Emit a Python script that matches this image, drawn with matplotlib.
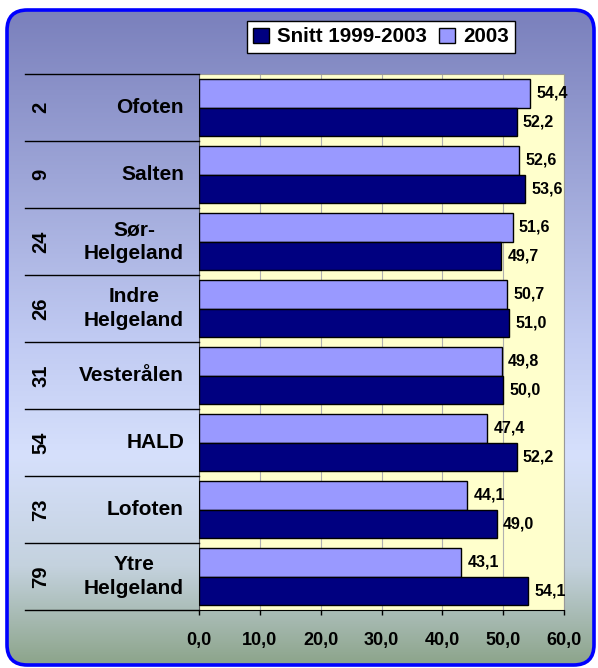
import numpy as np
import matplotlib.pyplot as plt
import matplotlib.transforms as mtransforms
from matplotlib.patches import FancyBboxPatch, Patch

plt.rcParams['font.family'] = ['Liberation Sans', 'DejaVu Sans']
plt.rcParams['font.weight'] = 'bold'

regions = ['Ofoten', 'Salten', 'Sør-\nHelgeland', 'Indre\nHelgeland', 'Vesterålen',
           'HALD', 'Lofoten', 'Ytre\nHelgeland']
ranks = ['2', '9', '24', '26', '31', '54', '73', '79']
avg_1999_2003 = [52.2, 53.6, 49.7, 51.0, 50.0, 52.2, 49.0, 54.1]
val_2003 = [54.4, 52.6, 51.6, 50.7, 49.8, 47.4, 44.1, 43.1]
xticks = [0, 10, 20, 30, 40, 50, 60]

dark = '#000080'
light = '#9999FF'

W, H = 598, 668
fig = plt.figure(figsize=(W / 100, H / 100), dpi=100)
fig.patch.set_facecolor('white')

# background panel with vertical gradient and rounded blue border
bg = fig.add_axes([0, 0, 1, 1])
bg.set_xlim(0, 1)
bg.set_ylim(0, 1)
bg.axis('off')
stops = [0.0, 0.5, 0.68, 0.85, 1.0]
cols = np.array([(122, 128, 188), (192, 202, 242), (214, 224, 252),
                 (196, 210, 222), (140, 164, 138)]) / 255
t = np.linspace(0, 1, 400)
grad = np.stack([np.interp(t, stops, cols[:, c]) for c in range(3)], axis=-1)[:, None, :]
x0, y0 = 7 / W, 1 - 665 / H
x1, y1 = 594 / W, 1 - 10 / H
box = FancyBboxPatch((x0, y0), x1 - x0, y1 - y0,
                     boxstyle='round,pad=0,rounding_size=0.034',
                     mutation_aspect=W / H, facecolor='none',
                     edgecolor='#0000FF', linewidth=2.6, zorder=3)
bg.add_patch(box)
im = bg.imshow(grad, extent=[x0, x1, y0, y1], aspect='auto', zorder=1)
im.set_clip_path(box)

# main plot area
ax = fig.add_axes([199 / W, 1 - 610 / H, (564 - 199) / W, (610 - 74) / H])
ax.set_facecolor('#FFFFCC')
n = len(regions)
y = np.arange(n)
h = 0.43
ax.barh(y - h / 2, val_2003, height=h, color=light, edgecolor='black', linewidth=1.0, zorder=3)
ax.barh(y + h / 2, avg_1999_2003, height=h, color=dark, edgecolor='black', linewidth=1.0, zorder=3)

for yi, v in zip(y, val_2003):
    ax.text(v + 1.0, yi - h / 2, f'{v:.1f}'.replace('.', ','), va='center', ha='left',
            fontsize=11.5, fontweight='bold', clip_on=False, zorder=5)
for yi, v in zip(y, avg_1999_2003):
    ax.text(v + 1.0, yi + h / 2, f'{v:.1f}'.replace('.', ','), va='center', ha='left',
            fontsize=11.5, fontweight='bold', clip_on=False, zorder=5)

ax.set_xlim(0, 60)
ax.set_ylim(n - 0.5, -0.5)
ax.set_xticks(xticks, labels=[f'{v:.1f}'.replace('.', ',') for v in xticks])
ax.set_yticks([])
ax.tick_params(axis='x', direction='out', length=3.6, width=1, pad=12.5, labelsize=13)
for lab in ax.get_xticklabels():
    lab.set_fontweight('bold')
ax.grid(axis='x', color='#B0B0B0', linewidth=0.8)
ax.set_axisbelow(True)
ax.spines['top'].set_color('#999999')
ax.spines['right'].set_color('#999999')
ax.spines['left'].set_color('#555555')
ax.spines['bottom'].set_color('black')

# left table: rank + region name
trans = mtransforms.blended_transform_factory(fig.transFigure, ax.transData)
for k in range(n + 1):
    ax.plot([25 / W, 199 / W], [k - 0.5, k - 0.5], transform=trans, color='black',
            linewidth=1.0, clip_on=False, zorder=4)
for yi, r, name in zip(y, ranks, regions):
    ax.text(41 / W, yi, r, transform=trans, rotation=90, ha='center', va='center',
            fontsize=14.5, fontweight='bold', clip_on=False)
    ax.text(184 / W, yi, name, transform=trans, ha='right', va='center',
            multialignment='center', fontsize=15, fontweight='bold',
            linespacing=1.3, clip_on=False)

# legend
handles = [Patch(facecolor=dark, edgecolor='black'), Patch(facecolor=light, edgecolor='black')]
leg = fig.legend(handles, ['Snitt 1999-2003', '2003'], loc='center', ncol=2,
                 bbox_to_anchor=(381 / W, 1 - 37 / H), fancybox=False, framealpha=1,
                 edgecolor='black', fontsize=14.8, handlelength=0.75, handleheight=0.75,
                 handletextpad=0.4, columnspacing=0.6, borderpad=0.3)
leg.get_frame().set_linewidth(1.0)
for txt in leg.get_texts():
    txt.set_fontweight('bold')

fig.savefig('out.png', dpi=100)
